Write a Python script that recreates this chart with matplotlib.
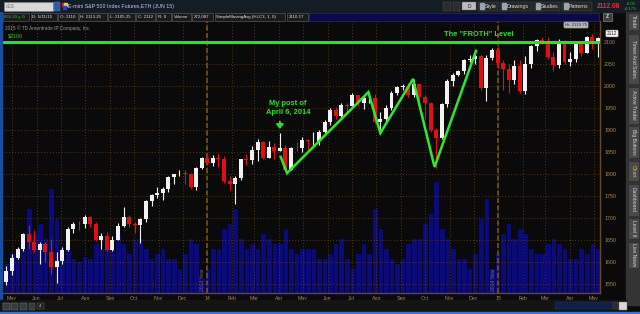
import numpy as np
import pandas as pd
import matplotlib
matplotlib.use("Agg")
import matplotlib.pyplot as plt
import matplotlib.dates as mdates
from matplotlib.patches import Rectangle, FancyArrowPatch

plt.rcParams['font.family'] = ['Liberation Sans', 'DejaVu Sans']

W, H = 640, 314

# weekly /ES bars, week ending on Friday
week_end = pd.date_range("2013-04-26", periods=107, freq="W-FRI")
first_open = 1555
closes = [1579, 1610, 1630, 1664, 1645, 1628, 1640, 1623, 1588, 1603,
          1628, 1675, 1687, 1686, 1703, 1687, 1651, 1659, 1628, 1651,
          1681, 1703, 1686, 1684, 1697, 1738, 1752, 1756, 1766, 1793,
          1799, 1801, 1800, 1770, 1813, 1836,
          1826, 1837, 1833, 1785, 1777, 1792, 1833, 1832, 1854, 1873,
          1837, 1861, 1853, 1860, 1810, 1859, 1858, 1877, 1874, 1874,
          1896, 1919, 1946, 1931, 1957, 1955, 1979, 1961, 1972, 1972,
          1919, 1925, 1949, 1983, 1997, 2001, 1979, 2005, 1976, 1962,
          1900, 1881, 1958, 2012, 2026, 2033, 2058, 2062, 2069, 1996,
          2064, 2082,
          2052, 2038, 2013, 2045, 1989, 2049, 2091, 2104, 2098, 2065,
          2047, 2102, 2055, 2061, 2096, 2075, 2111, 2102, 2110]
highs = [1590, 1618, 1633, 1667, 1684, 1672, 1645, 1645, 1652, 1622,
         1635, 1680, 1692, 1694, 1706, 1705, 1690, 1665, 1668, 1660,
         1688, 1724, 1706, 1692, 1700, 1742, 1755, 1771, 1770, 1795,
         1801, 1809, 1808, 1803, 1817, 1839,
         1845, 1843, 1847, 1842, 1795, 1796, 1835, 1846, 1864, 1879,
         1876, 1875, 1871, 1893, 1865, 1862, 1873, 1884, 1880, 1896,
         1899, 1922, 1950, 1953, 1962, 1962, 1983, 1980, 1980, 1986,
         1982, 1940, 1956, 1988, 2001, 2005, 2006, 2016, 2004, 1980,
         1964, 1905, 1962, 2015, 2029, 2036, 2062, 2070, 2077, 2070,
         2070, 2087,
         2090, 2060, 2050, 2059, 2060, 2068, 2094, 2106, 2112, 2112,
         2078, 2106, 2105, 2077, 2099, 2100, 2114, 2119, 2111]
lows = [1548, 1570, 1606, 1626, 1630, 1623, 1595, 1600, 1572, 1553,
        1595, 1625, 1666, 1672, 1678, 1680, 1648, 1629, 1624, 1626,
        1651, 1680, 1680, 1665, 1643, 1692, 1728, 1745, 1740, 1760,
        1778, 1795, 1777, 1765, 1764, 1812,
        1822, 1818, 1817, 1780, 1764, 1732, 1787, 1820, 1823, 1830,
        1834, 1836, 1834, 1852, 1806, 1808, 1852, 1850, 1855, 1861,
        1866, 1893, 1912, 1925, 1924, 1940, 1950, 1955, 1947, 1962,
        1914, 1901, 1920, 1946, 1980, 1990, 1976, 1975, 1960, 1926,
        1895, 1814, 1880, 1952, 2000, 2022, 2028, 2054, 2050, 1990,
        1966, 2060,
        2040, 1990, 1984, 2005, 1984, 1982, 2040, 2080, 2095, 2062,
        2035, 2040, 2050, 2046, 2054, 2068, 2076, 2083, 2067]
volume_k = [1200, 1600, 1400, 1800, 3400, 2400, 2800, 2200, 4200, 3000,
            1400, 1800, 1400, 1300, 1500, 1400, 2000, 1800, 2000, 1800,
            2400, 2000, 1600, 2200, 2200, 1800, 1400, 1600, 1800, 1400,
            1400, 1000, 1600, 2200, 2000, 600,
            1000, 1800, 1800, 2600, 2800, 3400, 2200, 1800, 2000, 1800,
            2400, 2200, 2000, 2000, 2600, 1800, 1600, 1800, 1800, 1800,
            1400, 1400, 1600, 2000, 2200, 1400, 1000, 1600, 2000, 1600,
            3400, 2600, 1800, 1400, 1200, 1400, 2000, 2200, 2200, 2800,
            3200, 4500, 2600, 2200, 1800, 1400, 1400, 1000, 1600, 3000,
            3800, 1000,
            1600, 2400, 2800, 2200, 2600, 2400, 1800, 1600, 1600, 2000,
            2200, 2000, 1800, 1400, 1400, 1800, 1600, 2000, 1800]

# hand drawn zig-zag
zig_dates = ["2014-04-03", "2014-04-11", "2014-07-22", "2014-08-06",
             "2014-09-16", "2014-10-13", "2014-12-04"]
zig_prices = [1839, 1802, 1986, 1893, 2016, 1816, 2080]
froth_level = 2100
price_ticks = [1550, 1600, 1650, 1700, 1750, 1800, 1850, 1900, 1950, 2000, 2050, 2100]


def fx(px):
    return px / W


def fy(py):
    return 1 - py / H


def box(x0, y0, x1, y1, **kw):
    fig.add_artist(Rectangle((fx(x0), fy(y1)), (x1 - x0) / W, (y1 - y0) / H,
                             transform=fig.transFigure, **kw))


def label(x, y, s, **kw):
    fig.text(fx(x), fy(y), s, **kw)


fig = plt.figure(figsize=(6.4, 3.14), dpi=100, facecolor="#0a0a0a")

rect = [fx(3), fy(293), (600 - 3) / W, (293 - 21) / H]
ax_vol = fig.add_axes(rect)
ax = fig.add_axes(rect, sharex=ax_vol)
ax_vol.set_facecolor("black")
ax.patch.set_visible(False)

d0 = mdates.date2num(pd.Timestamp("2013-05-01"))
d1 = mdates.date2num(pd.Timestamp("2015-05-01"))
ppd = (594 - 12) / (d1 - d0)
ax.set_xlim(d0 - 9 / ppd, d1 + 6 / ppd)
ax.set_ylim(2100 - 251 / 0.44, 2100 + 21 / 0.44)

x = mdates.date2num(week_end - pd.Timedelta(days=2))
c = np.array(closes, dtype=float)
o = np.r_[first_open, c[:-1]]
hi = np.array(highs, dtype=float)
lo = np.array(lows, dtype=float)
up = c >= o
cols = np.where(up, "#f2f2f2", "#e01010")

# volume
ax_vol.bar(x, volume_k, width=7, color="#0b0b78", edgecolor="#030318", linewidth=0.5)
ax_vol.set_ylim(0, 272 * 40)
ax_vol.axis("off")

# grid
months = pd.date_range("2013-05-01", "2015-05-01", freq="MS")
ax.set_xticks(mdates.date2num(months))
ax.set_xticklabels([m.strftime("%y") if m.month == 1 else m.strftime("%b") for m in months])
ax.set_yticks(price_ticks)
ax.grid(True, color="#6a4612", linestyle=(0, (1, 2.5)), linewidth=0.6, zorder=0)
for yr in ["2014-01-01", "2015-01-01"]:
    ax.axvline(mdates.date2num(pd.Timestamp(yr)), color="#7a5522", linestyle=(0, (3, 1.5)),
               linewidth=1.2, zorder=1)
ax.text(mdates.date2num(pd.Timestamp("2013-12-26")), 1535, "2013 Year", rotation=90,
        fontsize=3.6, color="#7a6a70", ha="center", va="bottom")
ax.text(mdates.date2num(pd.Timestamp("2014-12-26")), 1535, "2014 Year", rotation=90,
        fontsize=3.6, color="#7a6a70", ha="center", va="bottom")

# candles
ax.vlines(x, lo, hi, colors=cols, linewidth=0.8, zorder=3)
ax.bar(x, np.maximum(np.abs(c - o), 1.5), bottom=np.minimum(o, c), width=5.0,
       color=cols, linewidth=0, zorder=3)

# froth level and drawings
ax.axhline(froth_level, color="#1ee81e", linewidth=2.2, zorder=4)
ax.plot(mdates.date2num(pd.to_datetime(zig_dates)), zig_prices, color="#2ee82e",
        linewidth=1.8, zorder=4, solid_joinstyle="miter")
ax.text(mdates.date2num(pd.Timestamp("2014-12-07")), 2118, "The \"FROTH\" Level",
        color="#1ee81e", fontsize=5.4, fontweight="bold", ha="center", va="center", zorder=5)
ax.text(mdates.date2num(pd.Timestamp("2014-04-12")), 1961, "My post of",
        color="#1ee81e", fontsize=5.4, fontweight="bold", ha="center", va="center", zorder=5)
ax.text(mdates.date2num(pd.Timestamp("2014-04-12")), 1940, "April 6, 2014",
        color="#1ee81e", fontsize=5.4, fontweight="bold", ha="center", va="center", zorder=5)
xa = mdates.date2num(pd.Timestamp("2014-04-02"))
ax.add_patch(FancyArrowPatch((xa, 1925), (xa, 1896), arrowstyle="-|>,head_length=2.5,head_width=2",
                             color="#1ee81e", linewidth=1.4, zorder=5))

# axes styling
for s in ["left", "top"]:
    ax.spines[s].set_visible(False)
for s in ["right", "bottom"]:
    ax.spines[s].set_color("#6a4a1a")
    ax.spines[s].set_linewidth(1.0)
ax.yaxis.tick_right()
ax.tick_params(axis="both", length=0, labelsize=3.8, labelcolor="#b08850")
ax.tick_params(axis="y", pad=3)
ax.tick_params(axis="x", pad=2.5)

ax.text(0.004, 0.973, "2015 \u00a9 TD Ameritrade IP Company, Inc.", transform=ax.transAxes,
        fontsize=3.4, color="#9a9a9a", va="center")
ax.text(0.008, 0.945, "$2100", transform=ax.transAxes, fontsize=3.8, color="#28d028", va="center")

# title bar
box(0, 0, 640, 12, color="#141c26", zorder=0)
box(4, 2, 53, 10.5, facecolor="#d8d8d8", edgecolor="#808080", linewidth=0.4)
label(6, 6.3, "/ES", fontsize=3.6, color="#707070", va="center")
box(53.5, 2, 59.5, 10.5, facecolor="#2a5ab0", edgecolor="#808080", linewidth=0.3)
box(61.5, 3, 64, 6, color="#e02020")
box(64, 3, 66.5, 6, color="#f0d020")
box(62.5, 6, 65.5, 9, color="#2040e0")
label(68, 6.3, "E-mini S&P 500 Index Futures,ETH (JUN 15)", fontsize=3.8, color="#c0cce0", va="center")
box(443, 2, 451, 10.5, facecolor="#2c2c2c", edgecolor="#555555", linewidth=0.3)
box(453, 2, 460, 10.5, facecolor="#2c2c2c", edgecolor="#555555", linewidth=0.3)
box(462, 2.5, 476, 10, facecolor="#bcbcbc", edgecolor="#666666", linewidth=0.3)
label(469, 6.3, "D", fontsize=3.6, color="#202020", ha="center", va="center")
for x0, x1, s in [(478, 498, "Style"), (500, 532, "Drawings"), (534, 560, "Studies"), (562, 592, "Patterns")]:
    box(x0, 2, x1, 10.5, facecolor="#262626", edgecolor="#505050", linewidth=0.3)
    label(x0 + 7, 6.3, s, fontsize=3.8, color="#dcdcdc", va="center")
    box(x0 + 1.5, 3.5, x0 + 5.5, 9, color="#9aa4b0")
label(609, 6.3, "2112.00", fontsize=4.8, color="#ff2828", fontweight="bold", ha="center", va="center")
label(631, 3.6, "+0.00", fontsize=2.8, color="#30d030", ha="center", va="center")
label(631, 8.6, "+0.17%", fontsize=2.8, color="#30d030", ha="center", va="center")

# study info row
row = [(3, 29, "/ES 20 y D", "#38c838"), (31, 57, "D: 5/11/15", None), (58, 78, "O: 2110", None),
       (79, 107, "H: 2113.25", None), (108, 135, "L: 2105.25", None), (136, 155, "C: 2112", None),
       (156, 171, "R: 0", None), (172, 191, "Volume", None), (192, 213, "272,087", None),
       (215, 285, "SimpleMovingAvg (HLC3, 1, 0)", None), (287, 308, "2110.17", None)]
for x0, x1, s, col in row:
    box(x0, 13, x1, 20.5, facecolor="#1a1a1a", edgecolor="#6a6a6a", linewidth=0.4)
    label(x0 + 1.5, 16.9, s, fontsize=3.2, color=col or "#e6e6e6", va="center")
box(309, 13, 599, 20.5, facecolor="#0a0a48", edgecolor="#34347a", linewidth=0.4)
box(603, 13, 612, 20.5, facecolor="#3c3c3c", edgecolor="#9a9a9a", linewidth=0.4)
label(607.5, 16.9, "Z", fontsize=3.6, color="#e0e0e0", ha="center", va="center", fontweight="bold")

# price bubbles
label(576, 25, "Hi: 2119.75", fontsize=3.2, color="#303030", ha="center", va="center",
      bbox=dict(boxstyle="round,pad=0.25", fc="#b4b4b4", ec="#808080", lw=0.3))
label(612, 33.5, "2112", fontsize=3.4, color="#101010", ha="center", va="center",
      bbox=dict(boxstyle="round,pad=0.2", fc="#f4f4f4", ec="#a0a0a0", lw=0.3))

# left border
box(0, 12, 2, 300, color="#1c4c9c")

# side panel with tabs
box(626, 12, 640, 305, color="#343434")
tabs = [(3, 30, "Trade"), (34, 84, "Times And Sales"), (87, 124, "Active Trader"),
        (126, 158, "Big Buttons"), (161, 181, "Chart"), (184, 216, "Dashboard"),
        (218, 239, "Level II"), (242, 268, "Live News")]
for y0, y1, s in tabs:
    y0 = max(y0, 13)
    box(628, y0, 639, y1, facecolor="#4a4a4a", edgecolor="#262626", linewidth=0.4)
    label(633.5, (y0 + y1) / 2, s, fontsize=3.6, rotation=270, ha="center", va="center",
          color="#e8c040" if s == "Chart" else "#d6d6d6")

# bottom toolbar
box(0, 300, 626, 312, color="#141414")
box(0, 312, 640, 314, color="#2a78d8")
for xc in [6, 14.5, 23]:
    box(xc - 3.5, 302.5, xc + 3.5, 309.5, facecolor="#3a3a3a", edgecolor="#6a8ab0", linewidth=0.3)
box(29, 302.5, 35, 309.5, facecolor="#3a3a3a", edgecolor="#6a6a6a", linewidth=0.3)
box(37, 303, 44, 309, facecolor="#222222", edgecolor="#6a6a6a", linewidth=0.3)
label(40.5, 306, "4", fontsize=3, color="#c0c0c0", ha="center", va="center")
box(555, 302, 612, 309, facecolor="#102048", edgecolor="#2a3a6a", linewidth=0.3)
box(613, 302, 618, 309, facecolor="#2a2a2a", edgecolor="#555555", linewidth=0.3)
box(619, 301.5, 627, 309.5, facecolor="#d8d8d8", edgecolor="#808080", linewidth=0.3)

fig.savefig("out.png", dpi=100, facecolor=fig.get_facecolor())
